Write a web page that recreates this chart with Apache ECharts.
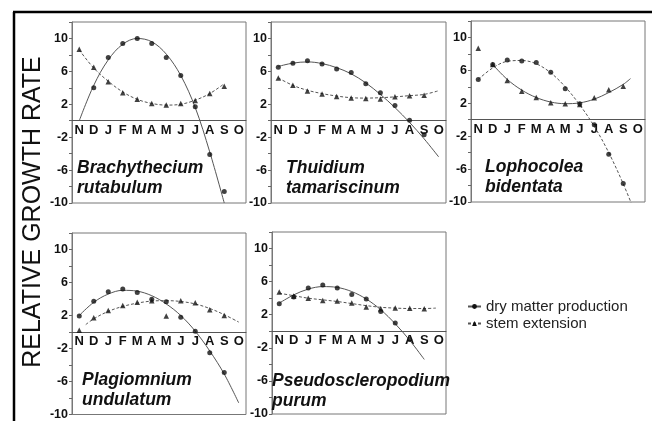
<!DOCTYPE html>
<html>
<head>
<meta charset="utf-8">
<script src="https://cdn.jsdelivr.net/npm/echarts@6/dist/echarts.min.js"></script>
<style>
  html, body { margin: 0; padding: 0; background: #fff; }
  #chart { width: 652px; height: 421px; }
</style>
</head>
<body>
<div id="chart"></div>
<script>
// month labels, Nov .. Oct
const months = ["N", "D", "J", "F", "M", "A", "M", "J", "J", "A", "S", "O"];
const yLabels = [-10, -6, -2, 2, 6, 10];
const yMin = -10;
const yMax = 12;

// measured points (null = no point drawn)
const brDry = [null, 4.0, 7.7, 9.4, 10.0, 9.4, 7.7, 5.5, 1.7, -4.1, -8.6, null];
const brStem = [8.7, 6.5, 4.75, 3.4, 2.6, 2.1, 1.9, 2.1, 2.45, 3.3, 4.2, null];
const thDry = [6.5, 7.0, 7.3, 6.9, 6.3, 5.85, 4.5, 3.4, 1.85, 0.05, -1.7, null];
const thStem = [5.2, 4.3, 3.6, 3.25, 2.95, 2.75, 2.7, 2.65, 2.9, 3.05, 3.1, null];
const loDry = [4.9, 6.7, 7.27, 7.15, 6.95, 5.77, 3.76, 1.94, -0.6, -4.2, -7.76, null];
const loStem = [8.7, 6.7, 4.76, 3.47, 2.7, 2.06, 1.94, 1.85, 2.67, 3.64, 4.07, null];
const plDry = [1.93, 3.73, 4.87, 5.2, 4.78, 3.98, 3.66, 1.8, 0.08, -2.5, -4.9, null];
const plStem = [0.2, 1.73, 2.6, 3.2, 3.6, 3.8, 1.93, 3.8, 3.54, 2.7, 2.0, null];
const puDry = [3.34, 4.14, 5.23, 5.59, 5.23, 4.46, 3.9, 2.4, 1.0, -1.0, null, null];
const puStem = [4.75, 4.27, 3.98, 3.73, 3.66, 3.42, 2.94, 2.73, 2.8, 2.77, 2.73, null];

// fitted curves, [month index, value]
const brDryFit = [[0, 0], [1, 4.3], [2, 7.4], [3, 9.3], [4, 10.0], [5, 9.6], [6, 8.1], [7, 5.5], [8, 1.6], [9, -3.8], [10, -10]];
const brStemFit = [[0, 8.6], [1, 6.4], [2, 4.8], [3, 3.5], [4, 2.6], [5, 2.1], [6, 1.9], [7, 2.0], [8, 2.5], [9, 3.3], [10, 4.5]];
const thDryFit = [[0, 6.6], [1, 7.0], [2, 7.15], [3, 6.95], [4, 6.45], [5, 5.7], [6, 4.6], [7, 3.2], [8, 1.6], [9, -0.2], [10, -2.2], [11, -4.4]];
const thStemFit = [[0, 5.2], [1, 4.3], [2, 3.7], [3, 3.3], [4, 3.0], [5, 2.8], [6, 2.75], [7, 2.8], [8, 2.9], [9, 3.05], [10, 3.2], [11, 3.65]];
const loDryFit = [[0, 4.9], [1, 6.3], [2, 7.1], [3, 7.2], [4, 6.8], [5, 5.7], [6, 4.0], [7, 1.8], [8, -0.8], [9, -4.0], [10, -7.8], [11, -12.1]];
const loStemFit = [[1, 6.7], [2, 4.9], [3, 3.6], [4, 2.7], [5, 2.15], [6, 1.95], [7, 2.05], [8, 2.5], [9, 3.3], [10, 4.3], [10.5, 5.0]];
const plDryFit = [[0, 2.0], [1, 3.6], [2, 4.6], [3, 5.05], [4, 4.95], [5, 4.4], [6, 3.4], [7, 2.0], [8, 0.1], [9, -2.3], [10, -5.1], [11, -8.6]];
const plStemFit = [[0.45, 0.9], [1, 1.6], [2, 2.5], [3, 3.1], [4, 3.5], [5, 3.75], [6, 3.8], [7, 3.7], [8, 3.4], [9, 2.85], [10, 2.1], [11, 1.2]];
const puDryFit = [[0, 3.4], [1, 4.4], [2, 5.1], [3, 5.4], [4, 5.3], [5, 4.8], [6, 3.9], [7, 2.6], [8, 0.9], [9, -1.1], [10, -3.4]];
const puStemFit = [[0, 4.6], [1, 4.3], [2, 4.0], [3, 3.8], [4, 3.6], [5, 3.35], [6, 3.1], [7, 2.9], [8, 2.8], [9, 2.75], [10, 2.75], [10.8, 2.8]];

const species = [
  "Brachythecium\nrutabulum",
  "Thuidium\ntamariscinum",
  "Lophocolea\nbidentata",
  "Plagiomnium\nundulatum",
  "Pseudoscleropodium\npurum",
];

const FONT = "'Liberation Sans', Arial, Helvetica, sans-serif";
const LINE = "#555";
const INK = "#111";
const DASH = [3, 2];

// panel boxes and where the species name sits
const boxes = [
  { left: 72, top: 22, width: 174, height: 181, tx: 77, ty: 158 },
  { left: 271, top: 22, width: 175, height: 181, tx: 286, ty: 158 },
  { left: 471, top: 21, width: 174, height: 181, tx: 485, ty: 157 },
  { left: 72, top: 233, width: 174, height: 182, tx: 82, ty: 370 },
  { left: 272, top: 232, width: 174, height: 182, tx: 272, ty: 371 },
];

const panels = [
  { dry: brDry, dryFit: brDryFit, stem: brStem, stemFit: brStemFit, dryDashed: false },
  { dry: thDry, dryFit: thDryFit, stem: thStem, stemFit: thStemFit, dryDashed: false },
  { dry: loDry, dryFit: loDryFit, stem: loStem, stemFit: loStemFit, dryDashed: true },
  { dry: plDry, dryFit: plDryFit, stem: plStem, stemFit: plStemFit, dryDashed: false },
  { dry: puDry, dryFit: puDryFit, stem: puStem, stemFit: puStemFit, dryDashed: false },
];

function toPoints(arr) {
  const out = [];
  arr.forEach((v, i) => {
    if (v !== null) out.push([i, v]);
  });
  return out;
}

const n = boxes.length;
const grid = [];
const xAxis = [];
const yAxis = [];
const series = [];
const graphic = [];

// main panels: box, y axis, hidden numeric x axis for the data
boxes.forEach((b, i) => {
  grid.push({
    left: b.left, top: b.top, width: b.width, height: b.height,
    show: true, borderColor: "#777", borderWidth: 1, backgroundColor: "transparent",
  });
  xAxis.push({
    gridIndex: i, type: "value", show: false, min: -0.5, max: 11.5,
    axisLine: { onZero: false },
  });
  yAxis.push({
    gridIndex: i,
    type: "value",
    min: yMin,
    max: yMax,
    interval: 2,
    axisLine: { show: true, onZero: false, lineStyle: { color: "#777" } },
    axisTick: { show: true, length: 3, lineStyle: { color: "#666" } },
    splitLine: { show: false },
    axisLabel: {
      margin: 4,
      color: INK,
      fontFamily: FONT,
      fontWeight: "bold",
      fontSize: 12.5,
      formatter: (v) => (yLabels.includes(v) ? String(v) : ""),
    },
  });

  const p = panels[i];
  const dryLine = { color: LINE, width: 1, type: p.dryDashed ? DASH : "solid" };
  const stemLine = { color: LINE, width: 1, type: p.dryDashed ? "solid" : DASH };

  series.push({
    name: "dry matter production", type: "line", xAxisIndex: i, yAxisIndex: i,
    data: p.dryFit, smooth: 0.35, showSymbol: false, symbol: "circle", symbolSize: 5,
    lineStyle: dryLine, itemStyle: { color: INK }, silent: true, z: 2,
  });
  series.push({
    name: "stem extension", type: "line", xAxisIndex: i, yAxisIndex: i,
    data: p.stemFit, smooth: 0.35, showSymbol: false, symbol: "triangle", symbolSize: 5,
    lineStyle: stemLine, itemStyle: { color: INK }, silent: true, z: 2,
  });
  series.push({
    name: "dry matter production", type: "scatter", xAxisIndex: i, yAxisIndex: i,
    data: toPoints(p.dry), symbol: "circle", symbolSize: 5,
    itemStyle: { color: INK }, z: 3,
  });
  series.push({
    name: "stem extension", type: "scatter", xAxisIndex: i, yAxisIndex: i,
    data: toPoints(p.stem), symbol: "triangle", symbolSize: 5.5,
    itemStyle: { color: INK }, z: 3,
  });

  graphic.push({
    type: "text", left: b.tx, top: b.ty, z: 10,
    style: {
      text: species[i], fill: INK, font: "italic bold 17.5px " + FONT, lineHeight: 20,
    },
  });
});

// month axes: a borderless grid from the box top down to y = 0,
// so its bottom category axis lies on the zero line
boxes.forEach((b, i) => {
  grid.push({
    left: b.left, top: b.top, width: b.width,
    height: (b.height * yMax) / (yMax - yMin),
    show: false,
  });
  xAxis.push({
    gridIndex: n + i,
    type: "category",
    data: months,
    boundaryGap: true,
    position: "bottom",
    axisLine: { onZero: false, lineStyle: { color: "#555", width: 1 } },
    axisTick: { inside: true, length: 4, alignWithLabel: true, interval: 0, lineStyle: { color: "#555" } },
    splitLine: { show: false },
    axisLabel: {
      interval: 0,
      margin: 3,
      color: INK,
      fontFamily: FONT,
      fontWeight: "bold",
      fontSize: 13,
    },
  });
  yAxis.push({ gridIndex: n + i, type: "value", show: false, min: 0, max: yMax });
});

// outer frame of the figure
graphic.push({ type: "line", shape: { x1: 14, y1: 12, x2: 14, y2: 421 }, style: { stroke: "#000", lineWidth: 2.5 } });
graphic.push({ type: "line", shape: { x1: 13, y1: 12, x2: 652, y2: 12 }, style: { stroke: "#000", lineWidth: 2.5 } });
graphic.push({
  type: "text", x: 33, y: 212, rotation: Math.PI / 2,
  style: {
    text: "RELATIVE GROWTH RATE", fill: INK, font: "25px " + FONT,
    textAlign: "center", textVerticalAlign: "middle",
  },
});

const chart = echarts.init(document.getElementById("chart"));
chart.setOption({
  animation: false,
  backgroundColor: "#fff",
  grid: grid,
  xAxis: xAxis,
  yAxis: yAxis,
  series: series,
  graphic: graphic,
  legend: {
    data: ["dry matter production", "stem extension"],
    orient: "vertical",
    left: 462,
    top: 294,
    itemWidth: 13,
    itemHeight: 6,
    itemGap: 2,
    selectedMode: false,
    textStyle: { fontFamily: FONT, fontSize: 15, color: "#222" },
  },
});
</script>
</body>
</html>
